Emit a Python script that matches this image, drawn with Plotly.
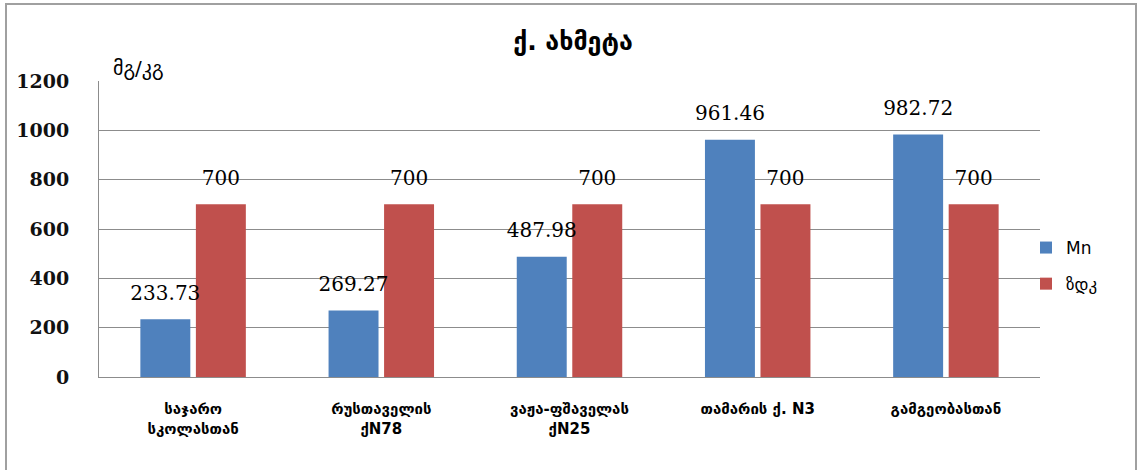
import plotly.graph_objects as go

categories = ["საჯარო<br>სკოლასთან", "რუსთაველის<br>ქN78", "ვაჟა-ფშაველას<br>ქN25",
              "თამარის ქ. N3", "გამგეობასთან"]
mn_values = [233.73, 269.27, 487.98, 961.46, 982.72]
zdk_values = [700, 700, 700, 700, 700]
series_names = ["Mn", "ზდკ"]
y_ticks = [0, 200, 400, 600, 800, 1000, 1200]

BLUE = "#4F81BD"
RED = "#C0504D"
GRID = "#8C8C8C"

W, H = 1137, 470
ML, MR, MT, MB = 99, 97, 81, 93
PW, PH = W - ML - MR, H - MT - MB

fig = go.Figure()
for name, vals, col in [(series_names[0], mn_values, BLUE), (series_names[1], zdk_values, RED)]:
    fig.add_trace(go.Bar(
        x=categories, y=vals, name=name, marker_color=col, marker_line_width=0,
        offsetgroup=name, legendgroup=name,
    ))
for name, vals in [(series_names[0], mn_values), (series_names[1], zdk_values)]:
    fig.add_trace(go.Scatter(
        x=categories, y=vals, mode="markers+text", offsetgroup=name,
        text=[f"{v:g}" for v in vals], textposition="top center",
        marker=dict(size=22, color="rgba(0,0,0,0)"),
        textfont=dict(family="DejaVu Serif", size=20, color="#000"),
        showlegend=False, hoverinfo="skip", cliponaxis=False,
    ))

fig.update_layout(
    width=W, height=H,
    margin=dict(l=ML, r=MR, t=MT, b=MB),
    paper_bgcolor="white", plot_bgcolor="white",
    barmode="group", bargap=0.41, bargroupgap=0.1,
    scattermode="group", scattergap=0.41,
    font=dict(family="DejaVu Sans", color="#000"),
    title=dict(text="<b>ქ. ახმეტა</b>", x=573 / W, xanchor="center", y=1 - 41 / H, yanchor="middle",
               font=dict(family="DejaVu Sans", size=25, color="#000")),
    legend=dict(x=(1026 - ML) / PW, xanchor="left", y=(377 - 230) / PH, yanchor="top",
                font=dict(family="DejaVu Sans", size=17, color="#000"),
                tracegroupgap=11, bgcolor="rgba(0,0,0,0)"),
    showlegend=True,
)
fig.update_yaxes(range=[0, 1200], tickvals=y_ticks, showgrid=True, gridcolor=GRID, gridwidth=1,
                 showline=True, linecolor=GRID, linewidth=1, zeroline=False,
                 ticklabelstandoff=25,
                 tickfont=dict(family="DejaVu Serif", size=19, color="#111"),
                 ticktext=[f"<b>{t}</b>" for t in y_ticks])
fig.update_xaxes(showline=True, linecolor=GRID, linewidth=1, showgrid=False,
                 ticklabelstandoff=18,
                 tickfont=dict(family="DejaVu Sans", size=15, color="#000"),
                 ticktext=[f"<b>{c}</b>" for c in categories], tickvals=categories)

fig.add_annotation(text="მგ/კგ", xref="paper", yref="paper",
                   x=(111 - ML) / PW, xanchor="left", y=(377 - 68) / PH, yanchor="middle",
                   showarrow=False, font=dict(family="DejaVu Sans", size=20, color="#000"))

fig.add_shape(type="rect", xref="paper", yref="paper",
              x0=(6 - ML) / PW, x1=(1136 - ML) / PW, y0=(377 - 472) / PH, y1=(377 - 4) / PH,
              line=dict(color="#A0A0A0", width=2), fillcolor="rgba(0,0,0,0)", layer="below")

fig.write_html("out.html")
